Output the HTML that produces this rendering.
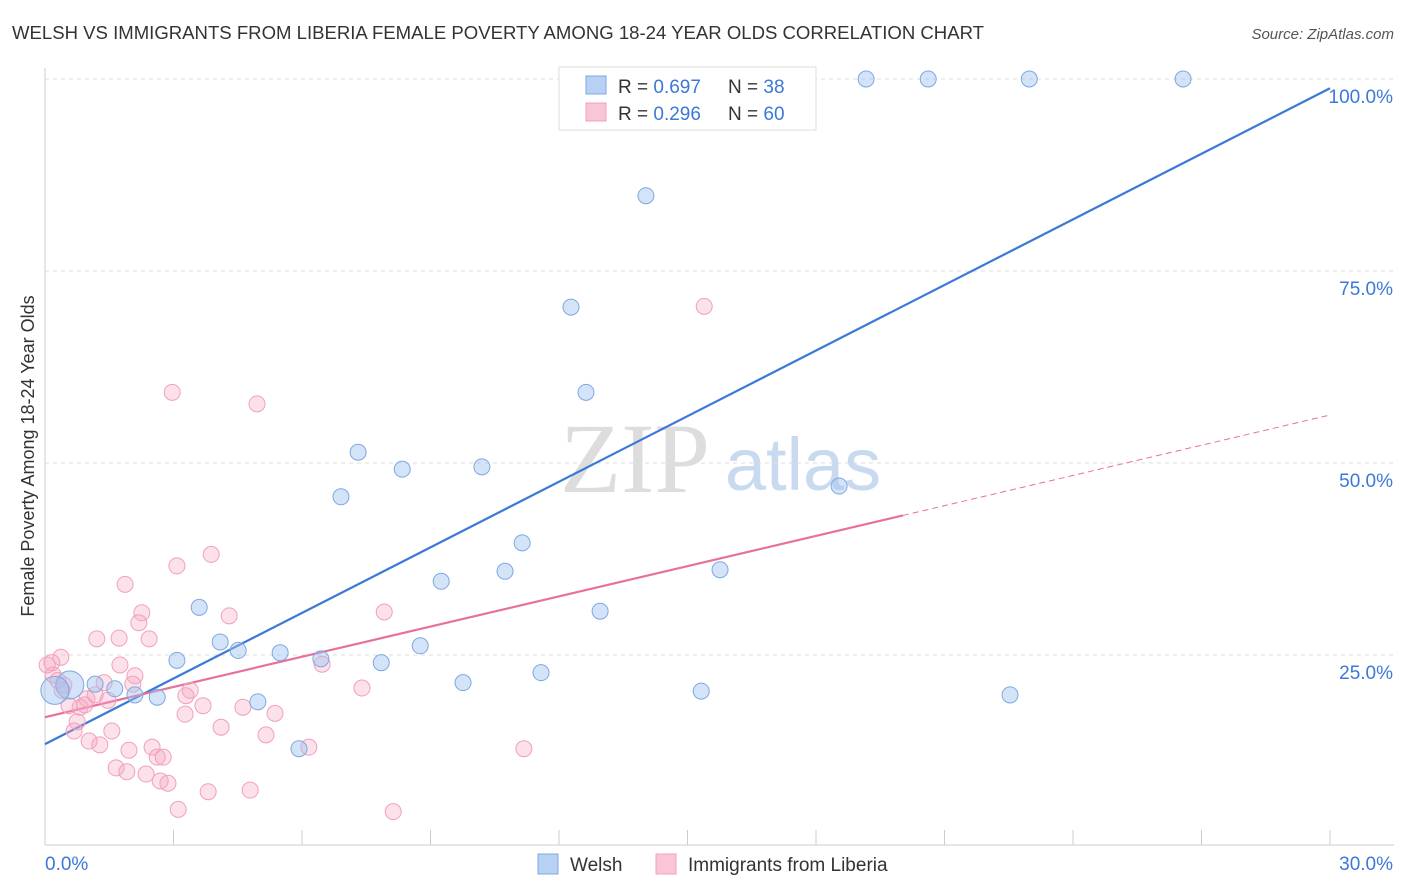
<!DOCTYPE html>
<html><head><meta charset="utf-8">
<style>
body{margin:0;background:#fff;font-family:"Liberation Sans",sans-serif;}
svg{display:block}
</style></head>
<body>
<svg width="1406" height="892" xmlns="http://www.w3.org/2000/svg" font-family="Liberation Sans, sans-serif">
<text x="12" y="39" font-size="18" fill="#333" textLength="972" lengthAdjust="spacingAndGlyphs">WELSH VS IMMIGRANTS FROM LIBERIA FEMALE POVERTY AMONG 18-24 YEAR OLDS CORRELATION CHART</text>
<text x="1394" y="39" font-size="15" fill="#555" text-anchor="end" font-style="italic">Source: ZipAtlas.com</text>
<text transform="translate(34,456) rotate(-90)" font-size="18" fill="#333" text-anchor="middle">Female Poverty Among 18-24 Year Olds</text>
<g>
<text x="635" y="492" font-size="100" fill="#ddd" font-family="Liberation Serif, serif" text-anchor="middle">ZIP</text>
<text x="803" y="490" font-size="74" fill="#c9daf0" text-anchor="middle">atlas</text>
</g>
<g id="grid"></g>
<g id="axes"></g>
<g id="lines"></g>
<g id="pts"></g>
<g>
<rect x="559" y="67" width="257" height="63" fill="#fff" stroke="#ddd"/>
<rect x="586" y="76" width="20" height="18" fill="#b8d2f5" stroke="#7ea8e0"/>
<text x="618" y="93" font-size="19" fill="#333">R = <tspan fill="#3b78d8">0.697</tspan></text>
<text x="728" y="93" font-size="19" fill="#333">N = <tspan fill="#3b78d8">38</tspan></text>
<rect x="586" y="103" width="20" height="18" fill="#f9c6d6" stroke="#f0a0bc"/>
<text x="618" y="120" font-size="19" fill="#333">R = <tspan fill="#3b78d8">0.296</tspan></text>
<text x="728" y="120" font-size="19" fill="#333">N = <tspan fill="#3b78d8">60</tspan></text>
</g>
<g>
<rect x="538" y="854" width="20" height="20" fill="#b8d2f5" stroke="#7ea8e0"/>
<text x="570" y="871" font-size="19" fill="#333">Welsh</text>
<rect x="656" y="854" width="20" height="20" fill="#f9c6d6" stroke="#f0a0bc"/>
<text x="688" y="871" font-size="19" fill="#333">Immigrants from Liberia</text>
</g>
</svg>
<script>
const xTickLabels=["0.0%","30.0%"];
const yTicks=[25,50,75,100];
const yTickLabels=["25.0%","50.0%","75.0%","100.0%"];
const welshX=[14.6,19.17,20.62,22.98,26.57,14.03,12.28,12.63,7.31,8.34,10.2,6.91,18.54,11.14,9.25,10.74,15.76,12.96,3.6,4.09,4.51,5.49,6.44,7.85,8.76,3.08,11.58,9.76,15.32,22.53,4.97,5.93,2.62,2.1,1.63,1.17,0.58,0.23];
const welshY=[100,100,100,100,100,84.8,70.3,59.2,51.4,49.2,49.5,45.6,47.0,39.6,34.6,35.9,36.1,30.7,31.2,26.7,25.6,25.3,24.5,24.0,26.2,24.3,22.7,21.4,20.3,19.8,18.9,12.8,19.5,19.8,20.6,21.2,21.1,20.4];
const libX=[2.97,4.95,15.39,3.88,3.08,1.87,2.26,4.3,7.92,2.19,1.21,1.73,2.43,0.37,0.16,0.19,0.44,1.38,2.1,2.05,3.39,3.29,7.4,6.47,0.98,0.56,0.82,1.47,3.69,3.27,4.62,5.37,0.75,0.68,4.11,1.56,1.03,1.28,5.16,6.16,1.96,2.5,2.62,2.76,11.18,1.66,1.91,2.36,2.69,2.87,3.81,4.79,3.11,8.13,0.05,0.3,0.93,1.17,0.4,1.75];
const libY=[59.2,57.7,70.4,38.1,36.6,34.2,30.5,30.1,30.6,29.2,27.1,27.2,27.1,24.7,24.0,22.4,21.1,21.4,22.3,21.2,20.4,19.7,20.7,23.8,19.3,18.4,18.2,19.1,18.4,17.3,18.2,17.4,16.3,15.1,15.6,15.1,13.8,13.3,14.6,13.0,12.6,13.0,11.7,11.7,12.8,10.3,9.8,9.5,8.6,8.3,7.2,7.4,4.9,4.6,23.7,21.7,18.5,19.8,20.4,23.7];
const welshTrend=[13.4,98.8];
const libTrend=[16.9,56.25];
const libSolidEnd=20.03;
const NS="http://www.w3.org/2000/svg";
const X=v=>45+v/30*1285, Y=v=>847-v*7.68;
function mk(p,t,a){const e=document.createElementNS(NS,t);for(const k in a)e.setAttribute(k,a[k]);document.getElementById(p).appendChild(e);return e;}
yTicks.forEach((t,i)=>{
 const g=mk('grid','line',{x1:45,x2:1394,y1:Y(t),y2:Y(t),stroke:'#ddd','stroke-dasharray':'4,4'});
 
 
 const l=mk('axes','text',{x:1393,y:Y(t)+24,'font-size':19,fill:'#3b78d8','text-anchor':'end'});
 l.textContent=yTickLabels[i];
 
 
});
const xa=mk('axes','line',{x1:45,x2:1394,y1:845,y2:845,stroke:'#ccc'});


const ya=mk('axes','line',{x1:45,x2:45,y1:68,y2:845,stroke:'#ccc'});


for(let i=0;i<=10;i++){const t=mk('axes','line',{x1:X(i*3),x2:X(i*3),y1:830,y2:845,stroke:'#ccc'});
 
 }
[[0,'start',45],[1,'end',1393]].forEach(([i,a,x])=>{const t=mk('axes','text',{x:x,y:870,'font-size':19,fill:'#3b78d8','text-anchor':a});t.textContent=xTickLabels[i];
 
 });
function pts(xs,ys,fill,stroke,name){xs.forEach((x,i)=>{const big=(name==='welsh-point'&&x<1&&i>=36);
 const c=mk('pts','circle',{cx:X(x),cy:Y(ys[i]),r:big?14:8,fill:fill,stroke:stroke,'stroke-width':1});
 
 });}
pts(libX,libY,'rgba(245,170,195,0.35)','#f0a0bc','liberia-point');
pts(welshX,welshY,'rgba(160,195,240,0.45)','#7ea8e0','welsh-point');
const b=mk('lines','line',{x1:X(0),y1:Y(welshTrend[0]),x2:X(30),y2:Y(welshTrend[1]),stroke:'#3b78d8','stroke-width':2.2});


const ly=x=>libTrend[0]+(libTrend[1]-libTrend[0])*x/30;
const p1=mk('lines','line',{x1:X(0),y1:Y(ly(0)),x2:X(libSolidEnd),y2:Y(ly(libSolidEnd)),stroke:'#e8709a','stroke-width':2.2});


const p2=mk('lines','line',{x1:X(libSolidEnd),y1:Y(ly(libSolidEnd)),x2:X(30),y2:Y(ly(30)),stroke:'#e8709a','stroke-width':1,'stroke-dasharray':'6,4'});


</script>
</body></html>
